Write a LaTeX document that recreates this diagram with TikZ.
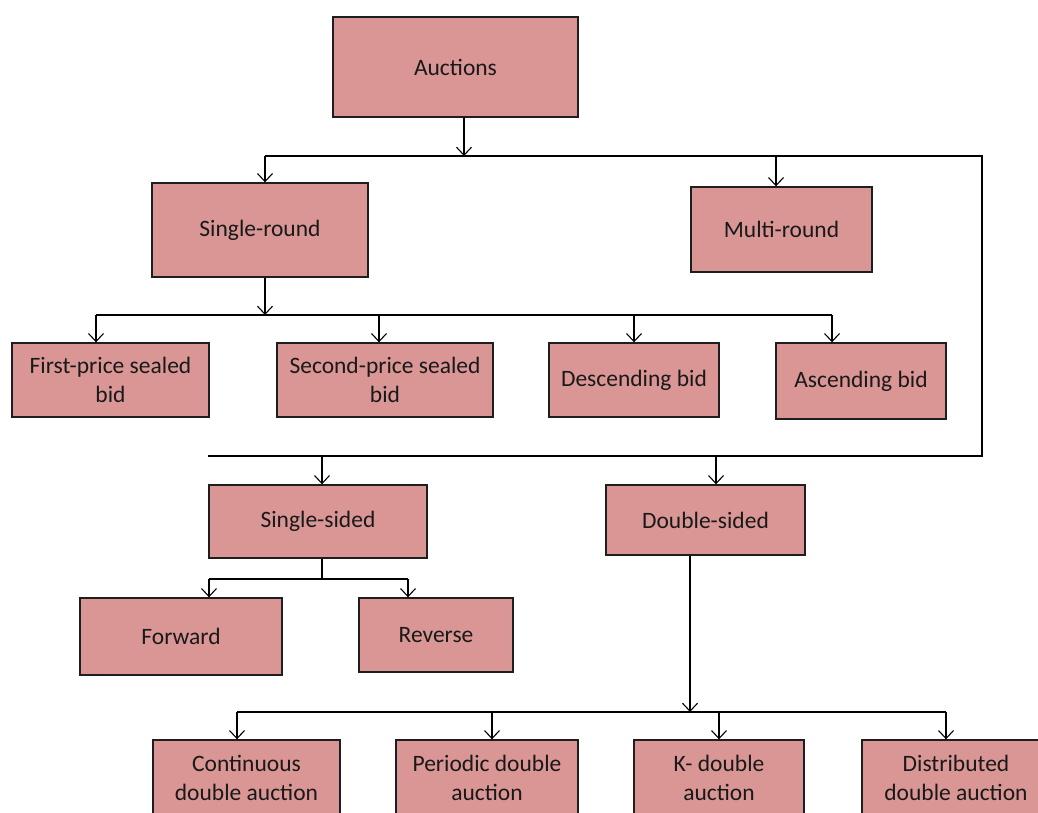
\documentclass[tikz,border=0pt]{standalone}
\usepackage{fontspec}
\setmainfont{Carlito}
\usetikzlibrary{arrows.meta}
\definecolor{boxfill}{HTML}{D99694}
\definecolor{boxline}{HTML}{1E1E1E}
\tikzset{
  box/.style={draw=boxline, fill=boxfill, line width=1.4pt, inner sep=0pt,
    align=center, font=\fontsize{23.5}{28.5}\selectfont, text=black!90},
  conn/.style={draw=black, line width=1.2pt},
  arr/.style={conn, -{Straight Barb[length=8pt,width=15pt,line width=1.1pt]}}
}
\begin{document}
\begin{tikzpicture}[x=1pt,y=-1pt]
\clip (0,0) rectangle (1038,812);
\fill[white] (0,0) rectangle (1038,812);
% boxes
\node[box, minimum width=245, minimum height=100] (auc) at (455.5,67) {Auctions};
\node[box, minimum width=216, minimum height=94] (sr) at (260,230) {Single-round};
\node[box, minimum width=181, minimum height=85] (mr) at (781.5,229.5) {Multi-round};
\node[box, minimum width=197, minimum height=74] (fp) at (110.5,380) {First-price sealed\\bid};
\node[box, minimum width=216, minimum height=74] (sp) at (385,380) {Second-price sealed\\bid};
\node[box, minimum width=170, minimum height=74] (desc) at (634,380) {Descending bid};
\node[box, minimum width=170, minimum height=76] (asc) at (861,381) {Ascending bid};
\node[box, minimum width=218, minimum height=73] (ss) at (318,521.5) {Single-sided};
\node[box, minimum width=199, minimum height=70] (ds) at (705.5,520) {Double-sided};
\node[box, minimum width=202, minimum height=77] (fw) at (181,636.5) {Forward};
\node[box, minimum width=154, minimum height=74] (rv) at (436,635) {Reverse};
\node[box, minimum width=187, minimum height=76] (cda) at (246.5,778) {Continuous\\double auction};
\node[box, minimum width=182, minimum height=76] (pda) at (487,778) {Periodic double\\auction};
\node[box, minimum width=170, minimum height=76] (kda) at (719,778) {K- double\\auction};
\node[box, minimum width=188, minimum height=76] (dda) at (956,778) {Distributed\\double auction};
% junction coordinates
\coordinate (a1) at (464,156);
\coordinate (tl) at (265,156);
\coordinate (tm) at (776,156);
\coordinate (tr) at (982,156);
\coordinate (br) at (982,456);
\coordinate (bl) at (208,456);
\coordinate (b1) at (322,456);
\coordinate (b2) at (716,456);
\coordinate (s1) at (265,315);
\coordinate (sl) at (96,315);
\coordinate (s2) at (379,315);
\coordinate (s3) at (634,315);
\coordinate (sr2) at (832,315);
\coordinate (f0) at (322,579);
\coordinate (fl) at (209,579);
\coordinate (fr) at (408,579);
\coordinate (d0) at (690,712);
\coordinate (dl) at (237,712);
\coordinate (d2) at (492,712);
\coordinate (d3) at (719,712);
\coordinate (dr) at (946,712);
% connectors
\draw[arr] (auc.south -| a1) -- (a1);
\draw[conn] (tl) -- (tr) -- (br) -- (bl);
\draw[arr] (tl) -- (sr.north -| tl);
\draw[arr] (tm) -- (mr.north -| tm);
\draw[arr] (sr.south -| s1) -- (s1);
\draw[conn] (sl) -- (sr2);
\draw[arr] (sl) -- (fp.north -| sl);
\draw[arr] (s2) -- (sp.north -| s2);
\draw[arr] (s3) -- (desc.north -| s3);
\draw[arr] (sr2) -- (asc.north -| sr2);
\draw[arr] (b1) -- (ss.north -| b1);
\draw[arr] (b2) -- (ds.north -| b2);
\draw[conn] (ss.south -| f0) -- (f0);
\draw[conn] (fl) -- (fr);
\draw[arr] (fl) -- (fw.north -| fl);
\draw[arr] (fr) -- (rv.north -| fr);
\draw[arr] (ds.south -| d0) -- (d0);
\draw[conn] (dl) -- (dr);
\draw[arr] (dl) -- (cda.north -| dl);
\draw[arr] (d2) -- (pda.north -| d2);
\draw[arr] (d3) -- (kda.north -| d3);
\draw[arr] (dr) -- (dda.north -| dr);
\end{tikzpicture}
\end{document}
